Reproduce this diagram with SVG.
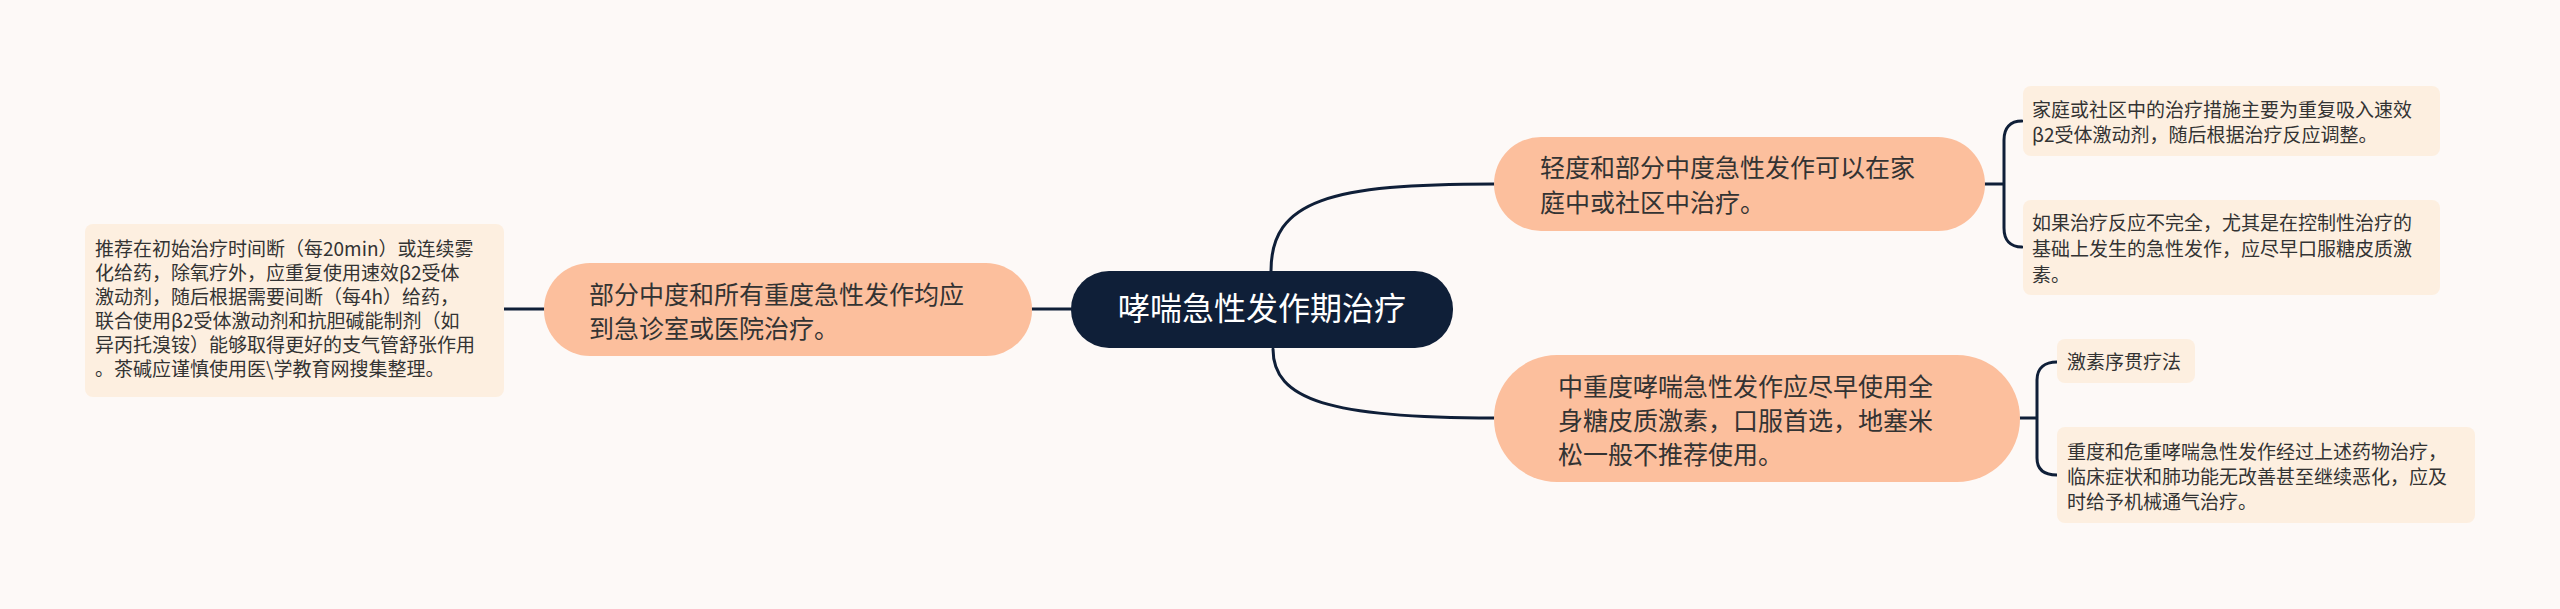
<svg xmlns="http://www.w3.org/2000/svg" width="2560" height="609" viewBox="0 0 2560 609">
<style>
text{font-family:"Noto Sans CJK SC","Noto Sans",sans-serif;fill:#333333}
.c{stroke:#0f1f38;stroke-width:3;fill:none;stroke-linecap:round}
.main{fill:#fcbf9d}
.leaf{fill:#fdefe0}
.mt{font-size:25px}
.lt{font-size:19px}
</style>
<rect width="2560" height="609" fill="#fdf9f7"/>
<g id="connectors">
<path class="c" d="M504,309 L544,309"/>
<path class="c" d="M1032,309 L1071,309"/>
<path class="c" d="M1271,271 C1271,200 1330,184 1494,184"/>
<path class="c" d="M1273,349 C1273,400 1330,418 1494,418"/>
<path class="c" d="M1985,184 L2004,184 M2022,121 C2010,121 2004,128 2004,140 L2004,228 C2004,240 2010,247 2022,247"/>
<path class="c" d="M2020,418 L2037,418 M2057,362 C2045,362 2037,368 2037,380 L2037,458 C2037,470 2045,475 2057,475"/>
</g>
<g id="center">
<rect x="1071" y="271" width="382" height="77" rx="38" fill="#0f1f38"/>
<text x="1262" y="320" text-anchor="middle" style="font-size:32px;fill:#ffffff">哮喘急性发作期治疗</text>
</g>
<g id="left-main">
<rect class="main" x="544" y="263" width="488" height="93" rx="46"/>
<text class="mt" x="589" y="304">部分中度和所有重度急性发作均应</text>
<text class="mt" x="589" y="338">到急诊室或医院治疗。</text>
</g>
<g id="left-leaf">
<rect class="leaf" x="85" y="224" width="419" height="173" rx="8"/>
<text class="lt" x="95" y="256">推荐在初始治疗时间断（每20min）或连续雾</text>
<text class="lt" x="95" y="280">化给药，除氧疗外，应重复使用速效β2受体</text>
<text class="lt" x="95" y="304">激动剂，随后根据需要间断（每4h）给药，</text>
<text class="lt" x="95" y="328">联合使用β2受体激动剂和抗胆碱能制剂（如</text>
<text class="lt" x="95" y="352">异丙托溴铵）能够取得更好的支气管舒张作用</text>
<text class="lt" x="95" y="376">。茶碱应谨慎使用医\学教育网搜集整理。</text>
</g>
<g id="top-main">
<rect class="main" x="1494" y="137" width="491" height="94" rx="47"/>
<text class="mt" x="1540" y="177">轻度和部分中度急性发作可以在家</text>
<text class="mt" x="1540" y="212">庭中或社区中治疗。</text>
</g>
<g id="top-leaf-1">
<rect class="leaf" x="2023" y="86" width="417" height="70" rx="8"/>
<text class="lt" x="2032" y="117">家庭或社区中的治疗措施主要为重复吸入速效</text>
<text class="lt" x="2032" y="142">β2受体激动剂，随后根据治疗反应调整。</text>
</g>
<g id="top-leaf-2">
<rect class="leaf" x="2023" y="200" width="417" height="95" rx="8"/>
<text class="lt" x="2032" y="230">如果治疗反应不完全，尤其是在控制性治疗的</text>
<text class="lt" x="2032" y="256">基础上发生的急性发作，应尽早口服糖皮质激</text>
<text class="lt" x="2032" y="282">素。</text>
</g>
<g id="bottom-main">
<rect class="main" x="1494" y="355" width="526" height="127" rx="63"/>
<text class="mt" x="1558" y="396">中重度哮喘急性发作应尽早使用全</text>
<text class="mt" x="1558" y="430">身糖皮质激素，口服首选，地塞米</text>
<text class="mt" x="1558" y="464">松一般不推荐使用。</text>
</g>
<g id="bottom-leaf-1">
<rect class="leaf" x="2057" y="339" width="138" height="44" rx="8"/>
<text class="lt" x="2067" y="369">激素序贯疗法</text>
</g>
<g id="bottom-leaf-2">
<rect class="leaf" x="2057" y="427" width="418" height="96" rx="8"/>
<text class="lt" x="2067" y="459">重度和危重哮喘急性发作经过上述药物治疗，</text>
<text class="lt" x="2067" y="484">临床症状和肺功能无改善甚至继续恶化，应及</text>
<text class="lt" x="2067" y="509">时给予机械通气治疗。</text>
</g>
</svg>
